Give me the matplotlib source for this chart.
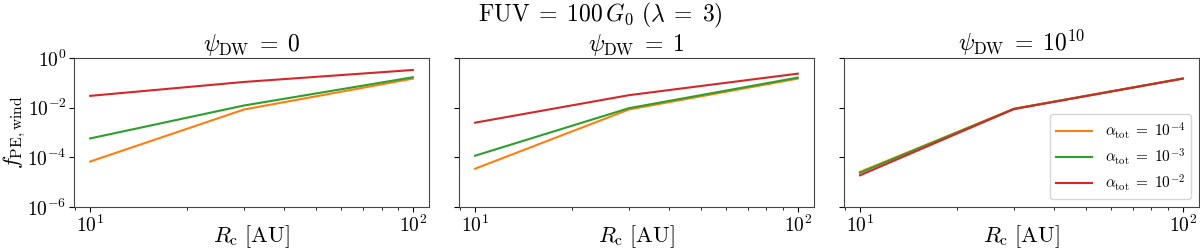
import numpy as np
import matplotlib
matplotlib.use("Agg")
import matplotlib.pyplot as plt
from matplotlib.ticker import FixedLocator, NullLocator, FuncFormatter

plt.rcParams["mathtext.fontset"] = "cm"
plt.rcParams["font.family"] = "serif"
plt.rcParams["font.serif"] = ["cmr10", "DejaVu Serif"]
plt.rcParams["axes.formatter.use_mathtext"] = True

# Disc radius [AU]
r_c = [10, 30, 100]

# f_PE,wind for each psi_DW panel, one series per alpha_tot
alpha_labels = [r"$\alpha_\mathrm{tot}\;=\;10^{-4}$",
                r"$\alpha_\mathrm{tot}\;=\;10^{-3}$",
                r"$\alpha_\mathrm{tot}\;=\;10^{-2}$"]
colors = ["tab:orange", "tab:green", "tab:red"]

panel_titles = [r"$\psi_\mathrm{DW}\;=\;0$",
                r"$\psi_\mathrm{DW}\;=\;1$",
                r"$\psi_\mathrm{DW}\;=\;10^{10}$"]

psi0 = [
    [6.8e-5, 8.5e-3, 0.148],   # alpha 1e-4
    [5.8e-4, 1.23e-2, 0.168],  # alpha 1e-3
    [3.0e-2, 0.109, 0.33],     # alpha 1e-2
]
psi1 = [
    [3.5e-5, 8.5e-3, 0.148],
    [1.17e-4, 9.6e-3, 0.163],
    [2.5e-3, 3.2e-2, 0.235],
]
psi1e10 = [
    [2.6e-5, 9.1e-3, 0.150],
    [2.4e-5, 9.0e-3, 0.149],
    [1.9e-5, 8.8e-3, 0.148],
]
panels = [psi0, psi1, psi1e10]


def log_fmt(v, pos):
    return r"$10^{%d}$" % int(round(np.log10(v)))


fig, axes = plt.subplots(1, 3, figsize=(12, 2.48), dpi=100, sharey=True)
fig.subplots_adjust(left=0.0617, right=0.999, top=0.766, bottom=0.165,
                    wspace=0.0845)

for ax, data, title in zip(axes, panels, panel_titles):
    for series, color, label in zip(data, colors, alpha_labels):
        ax.plot(r_c, series, color=color, lw=1.5, label=label)
    ax.set_xscale("log")
    ax.set_yscale("log")
    ax.set_ylim(1e-6, 1)
    ax.yaxis.set_major_locator(FixedLocator([1e-6, 1e-4, 1e-2, 1e0]))
    ax.yaxis.set_minor_locator(NullLocator())
    ax.yaxis.set_major_formatter(FuncFormatter(log_fmt))
    ax.xaxis.set_major_formatter(FuncFormatter(log_fmt))
    ax.tick_params(labelsize=14, pad=2)
    ax.set_title(title, fontsize=17, pad=3)
    ax.set_xlabel(r"$R_\mathrm{c}\ [\mathrm{AU}]$", fontsize=16, labelpad=-9)
    for s in ax.spines.values():
        s.set_color("#444444")

axes[0].set_ylabel(r"$f_\mathrm{PE,wind}$", fontsize=16, labelpad=-1)
axes[2].legend(loc="lower right", fontsize=11, handlelength=2.4,
               labelspacing=0.35, borderaxespad=0.5)

fig.suptitle(r"$\mathrm{FUV}\;=\;100\,G_0\ (\lambda\;=\;3)$", fontsize=17,
             y=0.995)

fig.savefig("out.png", dpi=100)
